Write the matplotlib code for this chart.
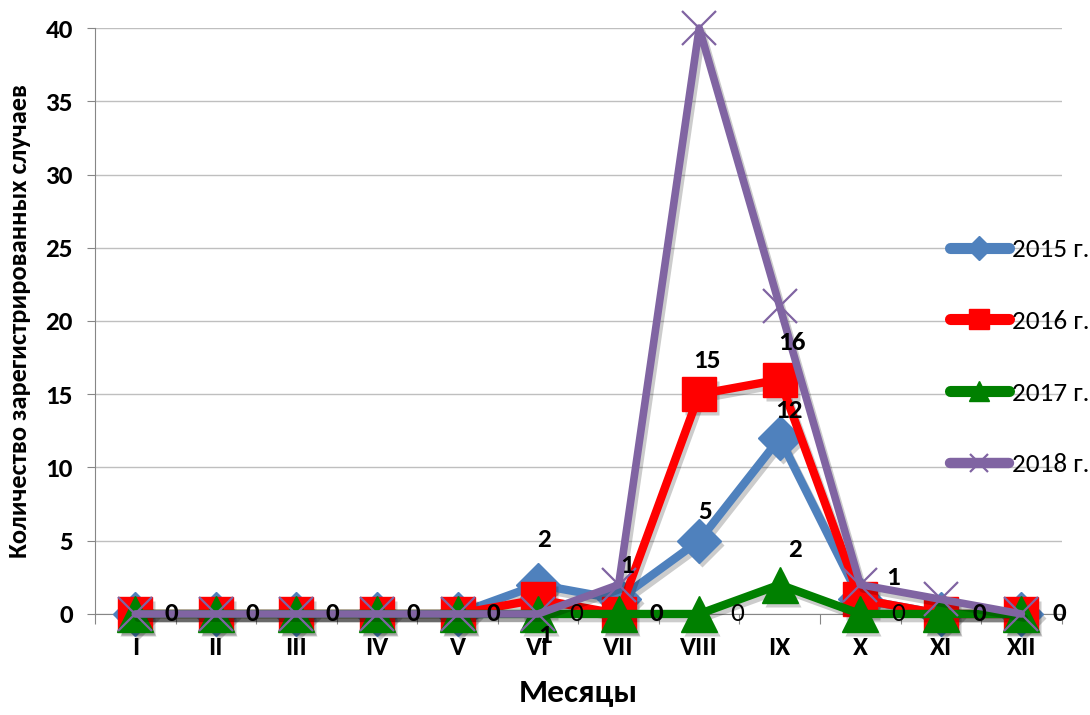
import numpy as np
import matplotlib
matplotlib.use('Agg')
import matplotlib.pyplot as plt
import matplotlib.patheffects as pe
import matplotlib.transforms as mtransforms

plt.rcParams['font.family'] = ['Carlito', 'DejaVu Sans']

months = ['I', 'II', 'III', 'IV', 'V', 'VI', 'VII', 'VIII', 'IX', 'X', 'XI', 'XII']
cases_2015 = [0, 0, 0, 0, 0, 2, 1, 5, 12, 1, 0, 0]
cases_2016 = [0, 0, 0, 0, 0, 1, 0, 15, 16, 1, 0, 0]
cases_2017 = [0, 0, 0, 0, 0, 0, 0, 0, 2, 0, 0, 0]
cases_2018 = [0, 0, 0, 0, 0, 0, 2, 40, 21, 2, 1, 0]

# value labels: (month index, dx, dy, bold), offsets in pixels
labels_2015 = [(5, 6, 45, True), (6, 8, 34, True), (7, 6, 29, True),
               (8, 9, 28, True), (9, 33, 22, True)]
labels_2016 = [(0, 36, 0, True), (1, 36, 0, True), (2, 36, 0, True),
               (3, 36, 0, True), (4, 36, 0, True), (5, 7, -36, True),
               (6, 38, 0, True), (7, 8, 34, True), (8, 12, 37, True),
               (10, 38, 0, True), (11, 38, 0, True)]
labels_2017 = [(5, 38, 0, False), (7, 38, 0, False), (8, 15, 35, True),
               (9, 38, 0, False)]

x = np.arange(len(months))

fig = plt.figure(figsize=(10.9, 7.15), dpi=100)
ax = fig.add_axes([0.0872, 0.1413, 0.8868, 0.8195])

line_shadow = [pe.SimpleLineShadow(offset=(2, -3), shadow_color='black', alpha=0.2),
               pe.Normal()]
mark_shift = mtransforms.offset_copy(ax.transData, fig=fig, x=3, y=-4, units='dots')

series = [
    ('2015 г.', cases_2015, '#4f81bd', 'D', 22, 6),
    ('2016 г.', cases_2016, '#ff0000', 's', 25, 6),
    ('2017 г.', cases_2017, '#008000', '^', 26, 6),
    ('2018 г.', cases_2018, '#8064a2', 'x', 24, 5.5),
]
handles = []
for i, (name, vals, col, mk, ms, lw) in enumerate(series):
    z = 3 + i
    mew = 1.6 if mk == 'x' else 1
    # soft drop shadow under the markers
    if mk != 'x':
        ax.plot(x, vals, ls='none', marker=mk, ms=ms, mfc='black', mec='none',
                alpha=0.2, transform=mark_shift, zorder=z, clip_on=False)
    ax.plot(x, vals, color=col, lw=lw, zorder=z, clip_on=False,
            solid_joinstyle='round', solid_capstyle='round',
            path_effects=line_shadow)
    ax.plot(x, vals, ls='none', marker=mk, ms=ms, mew=mew, mec=col, mfc=col,
            zorder=z + 0.5, clip_on=False)
    h, = ax.plot([], [], color=col, lw=lw + 2, marker=mk, ms=ms * 0.55,
                 mew=mew, mec=col, mfc=col, solid_capstyle='round', label=name)
    handles.append(h)

def put_labels(vals, items):
    for idx, dx, dy, bold in items:
        ax.annotate(str(vals[idx]), (x[idx], vals[idx]), xytext=(dx, dy),
                    textcoords='offset pixels', ha='center', va='center',
                    fontsize=19.5, fontweight='bold' if bold else 'normal',
                    color='black', zorder=10, annotation_clip=False)

put_labels(cases_2015, labels_2015)
put_labels(cases_2016, labels_2016)
put_labels(cases_2017, labels_2017)

ax.set_xlim(-0.5, 11.5)
ax.set_ylim(0, 40)
ax.set_yticks(np.arange(0, 41, 5))
ax.set_xticks(np.arange(-0.5, 12, 1))
ax.set_xticklabels([])
ax.set_xticks(x, minor=True)
ax.set_xticklabels(months, minor=True)
ax.tick_params(axis='x', which='major', length=7, color='#868686', direction='out')
ax.tick_params(axis='x', which='minor', length=0, pad=16, labelsize=19.5)
ax.tick_params(axis='y', length=6, color='#868686', labelsize=19.5, pad=10)
for lbl in ax.get_xticklabels(minor=True) + ax.get_yticklabels():
    lbl.set_fontweight('bold')

ax.grid(axis='y', color='#bfbfbf', lw=1)
ax.set_axisbelow(True)
for s in ['top', 'right']:
    ax.spines[s].set_visible(False)
for s in ['left', 'bottom']:
    ax.spines[s].set_color('#868686')

ax.set_ylabel('Количество зарегистрированных случаев', fontsize=19,
              fontweight='bold', labelpad=10)
ax.set_xlabel('Месяцы', fontsize=24, fontweight='bold', labelpad=14)

ax.legend(handles=handles, loc='center left', bbox_to_anchor=(0.884, 0.438),
          frameon=False, fontsize=19.5, handlelength=2.2, handletextpad=0.1,
          labelspacing=1.8, borderaxespad=0, borderpad=0)

fig.savefig('out.png', dpi=100)
